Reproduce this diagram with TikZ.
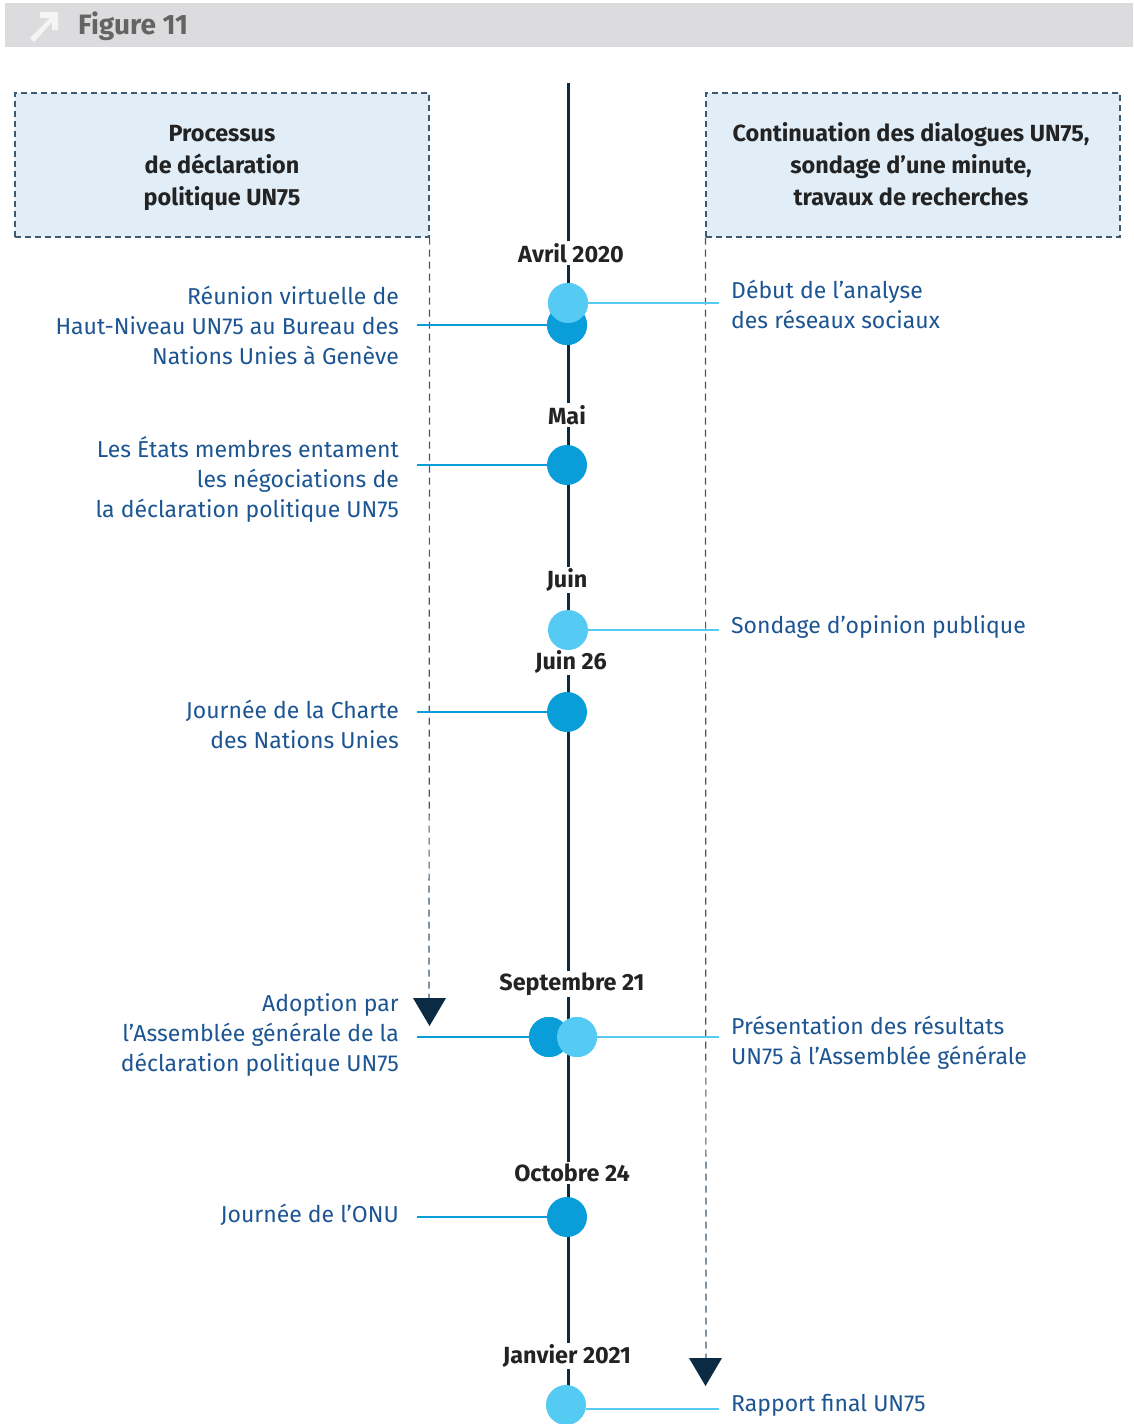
\documentclass[tikz,border=0pt]{standalone}
\usepackage{fontspec}
\setmainfont{Fira Sans}
\usetikzlibrary{shapes.geometric}
\definecolor{navy}{HTML}{0B2A44}
\definecolor{dotdark}{HTML}{099DD9}
\definecolor{dotlight}{HTML}{55CBF3}
\definecolor{txtblue}{HTML}{1C5592}
\definecolor{boxfill}{HTML}{E1EEF8}
\definecolor{boxline}{HTML}{3E5A72}
\definecolor{hdrgray}{HTML}{DCDCDE}
\definecolor{hdrtext}{HTML}{646464}
\definecolor{datetxt}{HTML}{232323}
\tikzset{
  hdrbox/.style={draw=boxline,dash pattern=on 6pt off 4pt,line width=1.2pt,fill=boxfill,minimum width=414pt,minimum height=144pt},
  hdrtxt/.style={align=center,font=\fontsize{23.4}{32}\selectfont\bfseries,text=datetxt},
  guide/.style={draw=boxline,dash pattern=on 7pt off 5pt,line width=1.2pt},
  datelbl/.style={fill=white,inner sep=2pt,font=\fontsize{23.4}{25}\selectfont\bfseries,text=datetxt},
  dark/.style={circle,fill=dotdark,minimum size=40pt,inner sep=0pt},
  light/.style={circle,fill=dotlight,minimum size=40pt,inner sep=0pt},
  ltxt/.style={anchor=east,align=right,font=\fontsize{23}{30}\selectfont,text=txtblue,inner sep=0pt},
  rtxt/.style={anchor=west,align=left,font=\fontsize{23}{30}\selectfont,text=txtblue,inner sep=0pt},
  lconn/.style={draw=dotdark,line width=2.5pt},
  rconn/.style={draw=dotlight,line width=2.5pt},
  tri/.style={fill=navy,draw=none},
}
\begin{document}
\begin{tikzpicture}[x=1pt,y=-1pt]
\useasboundingbox (0,0) rectangle (1133,1424);
% header
\fill[hdrgray] (5,3) rectangle (1133,47);
\fill[white!92!gray] (30,38) -- (50,18) -- (40,18) -- (40,12) -- (58,12) -- (58,30) -- (52,30) -- (52,22) -- (34,42) -- cycle;
\node[anchor=west,text=hdrtext,font=\fontsize{28}{30}\selectfont\bfseries,inner sep=0pt] (fig) at (78,26) {Figure 11};
% timeline
\coordinate (ttop) at (568,83);
\coordinate (tbot) at (568,1424);
\draw[navy,line width=3pt] (ttop) -- (tbot);
% boxes
\node[hdrbox] (lbox) at (222,165) {};
\node[hdrbox] (rbox) at (913,165) {};
\node[hdrtxt] (lboxt) at (222,168) {Processus\\de déclaration\\politique UN75};
\node[hdrtxt] (rboxt) at (911,164) {Continuation des dialogues UN75,\\sondage d’une minute,\\travaux de recherches};
% guides
\coordinate (lg) at (429,998);
\coordinate (rg) at (706,1358);
\draw[guide] (lbox.south east) -- (lg);
\draw[guide] (rbox.south west) -- (rg);
\fill[tri] (413,998) -- (446,998) -- (429.5,1026) -- cycle;
\fill[tri] (689,1358) -- (722,1358) -- (705.5,1386) -- cycle;
% dates
\node[datelbl] (d1) at (571,253) {Avril 2020};
\node[datelbl] (d2) at (567,415) {Mai};
\node[datelbl] (d3) at (567,580) {Juin};
\node[datelbl] (d4) at (571,662) {Juin 26};
\node[datelbl] (d5) at (572,984) {Septembre 21};
\node[datelbl] (d6) at (572,1173) {Octobre 24};
\node[datelbl] (d7) at (567,1356) {Janvier 2021};
% events
\node[dark] (e1) at (567,325) {};
\node[light] (f1) at (568,303) {};
\node[dark] (e2) at (567,465) {};
\node[light] (f2) at (568,630) {};
\node[dark] (e3) at (567,712) {};
\node[dark] (e4) at (549,1037) {};
\node[light] (f3) at (577,1037) {};
\node[dark] (e5) at (567,1217) {};
\node[light] (f4) at (566,1405) {};
% left texts
\node[ltxt] (t1) at (399,325) {Réunion virtuelle de\\Haut-Niveau UN75 au Bureau des\\Nations Unies à Genève};
\node[ltxt] (t2) at (399,479) {Les États membres entament\\les négociations de\\la déclaration politique UN75};
\node[ltxt] (t3) at (399,724) {Journée de la Charte\\des Nations Unies};
\node[ltxt] (t4) at (399,1035) {Adoption par\\l’Assemblée générale de la\\déclaration politique UN75};
\node[ltxt] (t5) at (399,1215) {Journée de l’ONU};
% right texts
\node[rtxt] (r1) at (731,304) {Début de l’analyse\\des réseaux sociaux};
\node[rtxt] (r2) at (731,627) {Sondage d’opinion publique};
\node[rtxt] (r3) at (731,1043) {Présentation des résultats\\UN75 à l’Assemblée générale};
\node[rtxt] (r4) at (731,1405) {Rapport final UN75};
% left connectors
\coordinate (c1) at (417,325);
\coordinate (c2) at (417,465);
\coordinate (c3) at (417,712);
\coordinate (c4) at (417,1037);
\coordinate (c5) at (417,1217);
\draw[lconn] (c1) -- (e1.west);
\draw[lconn] (c2) -- (e2.west);
\draw[lconn] (c3) -- (e3.west);
\draw[lconn] (c4) -- (e4.west);
\draw[lconn] (c5) -- (e5.west);
% right connectors
\coordinate (k1) at (719,303);
\coordinate (k2) at (719,630);
\coordinate (k3) at (719,1037);
\coordinate (k4) at (719,1409);
\draw[rconn] (f1.east) -- (k1);
\draw[rconn] (f2.east) -- (k2);
\draw[rconn] (f3.east) -- (k3);
\draw[rconn] (f4.east |- k4) -- (k4);
% redraw dots on top
\node[dark] at (e1) {};
\node[light] at (f1) {};
\node[dark] at (e4) {};
\node[light] at (f3) {};
\end{tikzpicture}
\end{document}
